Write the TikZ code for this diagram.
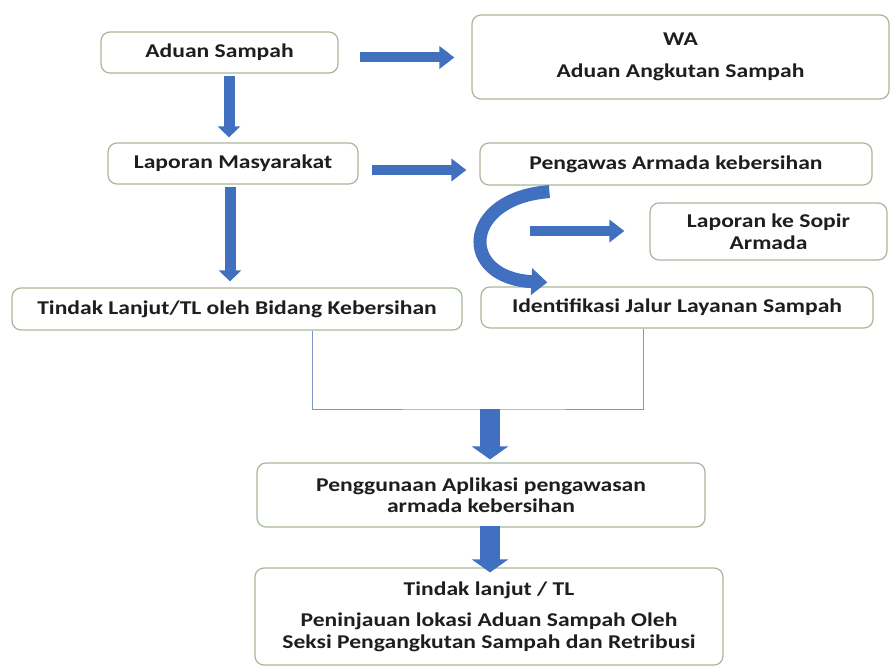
\documentclass[tikz,border=0pt]{standalone}
\usepackage{fontspec}
\setmainfont{Carlito}[FakeStretch=1.21]
\usepackage{tikz}
\usetikzlibrary{arrows.meta}
\definecolor{arrowblue}{RGB}{66,112,192}
\definecolor{boxline}{RGB}{168,184,156}
\definecolor{joinblue}{RGB}{125,150,200}
\definecolor{textdark}{RGB}{30,30,30}

\begin{document}
\begin{tikzpicture}[x=1pt,y=-1pt]
\tikzset{>={Triangle[width=22pt,length=15pt]}}
\tikzstyle{box} =[draw=boxline, line width=1.2pt, rounded corners=9pt, fill=white, text=textdark, font=\fontsize{19.5}{21.5}\selectfont\bfseries, align=center, inner sep=0pt]
\tikzstyle{flow} =[draw=arrowblue, line width=10pt, ->]
\tikzstyle{flowdown} =[draw=arrowblue, line width=11pt, -{Triangle[width=22pt,length=11pt]}]
\tikzstyle{flowbig} =[draw=arrowblue, line width=20pt, -{Triangle[width=36pt,length=13pt]}]
\tikzstyle{flowbend} =[draw=arrowblue, line width=13pt, -{Triangle[width=26pt,length=16pt]}]
\tikzstyle{joinline} =[draw=joinblue, line width=1pt]

\useasboundingbox (0,0) rectangle (891,666);

\node[box, minimum width=237pt, minimum height=41pt](aduan) at (219.5,52.5){Aduan Sampah};
\node[box, minimum width=417pt, minimum height=84pt](wa) at (680.5,57){WA\\[10pt]Aduan Angkutan Sampah};
\node[box, minimum width=250pt, minimum height=41pt](lapor) at (233,163.5){Laporan Masyarakat};
\node[box, minimum width=392pt, minimum height=42pt](pengawas) at (676,164){Pengawas Armada kebersihan};
\node[box, minimum width=237pt, minimum height=57pt](sopir) at (768.5,231.5){Laporan ke Sopir\\Armada};
\node[box, minimum width=450pt, minimum height=42pt](tindak) at (237,309){Tindak Lanjut/TL oleh Bidang Kebersihan};
\node[box, minimum width=392pt, minimum height=41pt](ident) at (677,307.5){Identifikasi Jalur Layanan Sampah};
\node[box, minimum width=448pt, minimum height=64pt](aplikasi) at (481,495){Penggunaan Aplikasi pengawasan\\armada kebersihan};
\node[box, minimum width=468pt, minimum height=97pt](tl) at (489,616.5){Tindak lanjut / TL\\[10pt]Peninjauan lokasi Aduan Sampah Oleh\\Seksi Pengangkutan Sampah dan Retribusi};

\coordinate (branch) at (530,231);
\coordinate (join) at (490,409);

\draw[flow, shorten <=21pt, shorten >=17pt] ([yshift=-5pt]aduan.east) -- ([yshift=-5pt]aduan.east -| wa.west);
\draw[flow, shorten <=13pt, shorten >=13pt] ([yshift=-6.5pt]lapor.east) -- ([yshift=-6.5pt]lapor.east -| pengawas.west);
\draw[flow, shorten >=25pt] (branch) -- (branch -| sopir.west);

\draw[flowdown, shorten <=2pt, shorten >=5pt] ([xshift=9.5pt]aduan.south) -- ([xshift=9.5pt]aduan.south |- lapor.north);
\draw[flowdown, shorten <=2pt, shorten >=6pt] ([xshift=-3pt]lapor.south) -- ([xshift=-3pt]lapor.south |- tindak.north);

\draw[flowbend] ([xshift=70pt,yshift=-6pt]pengawas.south west) .. controls (462,198) and (458,278) .. ([xshift=67pt,yshift=4pt]ident.north west);

\draw[joinline] ([xshift=301pt]tindak.south west) |- (join) -| ([xshift=163pt]ident.south west);

\draw[flowbig, shorten >=3pt] (join) -- (join |- aplikasi.north);
\draw[flowbig, shorten <=-2pt, shorten >=-5pt] ([xshift=9pt]aplikasi.south) -- ([xshift=1pt]tl.north);
\end{tikzpicture}
\end{document}
